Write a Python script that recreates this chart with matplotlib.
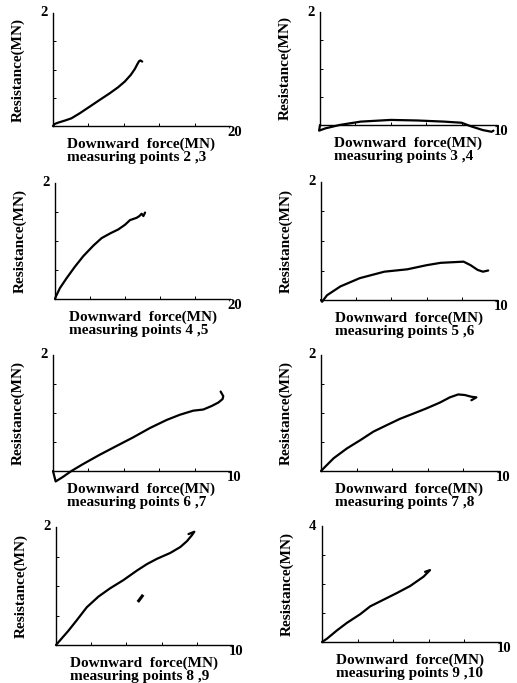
import numpy as np
import matplotlib
matplotlib.use("Agg")
import matplotlib.pyplot as plt

plt.rcParams['font.family'] = ['Liberation Serif', 'DejaVu Serif']

# panel titles (measuring points) and axis maxima
point_pairs = ["2 ,3", "3 ,4", "4 ,5", "5 ,6", "6 ,7", "7 ,8", "8 ,9", "9 ,10"]
force_max = [20, 10, 20, 10, 10, 10, 10, 10]
resist_max = [2, 2, 2, 2, 2, 2, 2, 4]

# curves (downward force, resistance), MN
force_23 = [0, 0.19, 0.57, 1.32, 2.08, 3.02, 4.15, 5.28, 6.42, 7.36, 8.11,
            8.79, 9.25, 9.55, 9.74, 9.89, 10.08]
resist_23 = [0, 0.036, 0.059, 0.095, 0.136, 0.225, 0.343, 0.462, 0.58, 0.686,
             0.787, 0.905, 1.01, 1.10, 1.15, 1.16, 1.14]

force_34 = [0, -0.05, 0.3, 1.1, 2.3, 4.0, 5.5, 7.0, 8.0, 8.5, 9.2, 9.7, 9.8]
resist_34 = [0, -0.1, -0.06, 0.0, 0.06, 0.09, 0.08, 0.06, 0.04, -0.02, -0.09, -0.12, -0.1]

force_45 = [0, 0.11, 0.57, 1.33, 2.29, 3.24, 4.38, 5.33, 6.29, 7.24, 8.0,
            8.57, 8.95, 9.33, 9.64, 9.9, 10.1, 10.29]
resist_45 = [0, 0.046, 0.19, 0.36, 0.56, 0.74, 0.92, 1.05, 1.13, 1.20, 1.28,
             1.36, 1.38, 1.40, 1.43, 1.47, 1.43, 1.49]

force_56 = [0, 0.06, 0.34, 1.1, 2.2, 3.6, 4.9, 6.0, 6.8, 8.1, 8.5, 8.9, 9.2, 9.5]
resist_56 = [0, -0.03, 0.08, 0.23, 0.37, 0.48, 0.52, 0.59, 0.63, 0.65, 0.59, 0.51, 0.48, 0.5]

force_67 = [0, 0.15, 0.57, 1.04, 1.70, 2.64, 3.58, 4.53, 5.47, 6.42, 7.17,
            7.92, 8.49, 8.96, 9.34, 9.58, 9.62, 9.47]
resist_67 = [0, -0.18, -0.10, 0.0, 0.12, 0.28, 0.43, 0.58, 0.74, 0.88, 0.97,
             1.04, 1.06, 1.12, 1.18, 1.24, 1.29, 1.37]

force_78 = [0, 0.24, 0.71, 1.46, 2.2, 2.95, 3.69, 4.44, 5.19, 5.93, 6.68,
            7.24, 7.71, 8.08, 8.45, 8.73, 8.45]
resist_78 = [0, 0.075, 0.22, 0.39, 0.53, 0.68, 0.79, 0.90, 0.99, 1.08, 1.18,
             1.27, 1.32, 1.31, 1.28, 1.27, 1.22]

force_89 = [0, 0.32, 0.70, 1.18, 1.75, 2.41, 3.07, 3.83, 4.59, 5.16, 5.73,
            6.49, 7.06, 7.44, 7.72, 7.86, 7.53]
resist_89 = [0, 0.11, 0.24, 0.42, 0.64, 0.82, 0.96, 1.10, 1.26, 1.37, 1.46,
             1.56, 1.66, 1.76, 1.86, 1.92, 1.88]
stray_89_x = [4.7, 4.9]
stray_89_y = [0.75, 0.83]

force_910 = [0, 0.28, 0.84, 1.40, 2.15, 2.71, 3.46, 4.21, 4.95, 5.70, 6.07, 5.79]
resist_910 = [0, 0.115, 0.40, 0.66, 0.96, 1.23, 1.46, 1.69, 1.93, 2.25, 2.48, 2.42]

curves = [(force_23, resist_23), (force_34, resist_34), (force_45, resist_45),
          (force_56, resist_56), (force_67, resist_67), (force_78, resist_78),
          (force_89, resist_89), (force_910, resist_910)]

W, H = 517, 683
# axes boxes in pixels: left, right, top, bottom
boxes = [(53, 230, 13, 126), (320, 497, 12, 125),
         (55, 230, 183, 299), (321, 497, 182, 300),
         (53, 230, 355, 471), (321, 499, 355, 471),
         (56, 232, 527, 645), (322, 500, 526, 642)]

fig = plt.figure(figsize=(W / 100, H / 100), dpi=100)

for i, (l, r, t, b) in enumerate(boxes):
    ax = fig.add_axes([l / W, (H - b) / H, (r - l) / W, (b - t) / H])
    xs, ys = curves[i]
    ax.plot(xs, ys, color='black', lw=1.6, clip_on=False,
            solid_capstyle='round', solid_joinstyle='round')
    if i == 6:
        ax.plot(stray_89_x, stray_89_y, color='black', lw=2.2, clip_on=False)
    xm, ym = force_max[i], resist_max[i]
    ax.set_xlim(0, xm)
    ax.set_ylim(0, ym)
    for s in ['top', 'right']:
        ax.spines[s].set_visible(False)
    for s in ['left', 'bottom']:
        ax.spines[s].set_linewidth(1.0)
    ax.set_xticks(np.arange(1, 5) * xm / 5)
    ax.set_yticks(np.arange(1, 4) * ym / 4)
    ax.tick_params(direction='in', length=2.5, width=0.7,
                   labelbottom=False, labelleft=False)

    ax.annotate(str(ym), xy=(0, 1), xycoords='axes fraction', xytext=(-4, 0),
                textcoords='offset points', ha='right', va='center',
                fontsize=10.5, fontweight='bold')
    ax.annotate(str(xm), xy=(1, 0), xycoords='axes fraction', xytext=(-2, -4.5),
                textcoords='offset points', ha='left', va='center',
                fontsize=10.5, fontweight='bold')
    ax.annotate('Resistance(MN)', xy=(0, 0.5), xycoords='axes fraction',
                xytext=(-25, 0), textcoords='offset points', rotation=90,
                ha='center', va='center', fontsize=11, fontweight='bold')
    ax.annotate('Downward  force(MN)', xy=(0, 0), xycoords='axes fraction',
                xytext=(10, -13), textcoords='offset points',
                ha='left', va='center', fontsize=11, fontweight='bold')
    ax.annotate('measuring points ' + point_pairs[i], xy=(0, 0),
                xycoords='axes fraction', xytext=(10, -22.5),
                textcoords='offset points', ha='left', va='center',
                fontsize=11, fontweight='bold')

fig.savefig('out.png', dpi=100)
